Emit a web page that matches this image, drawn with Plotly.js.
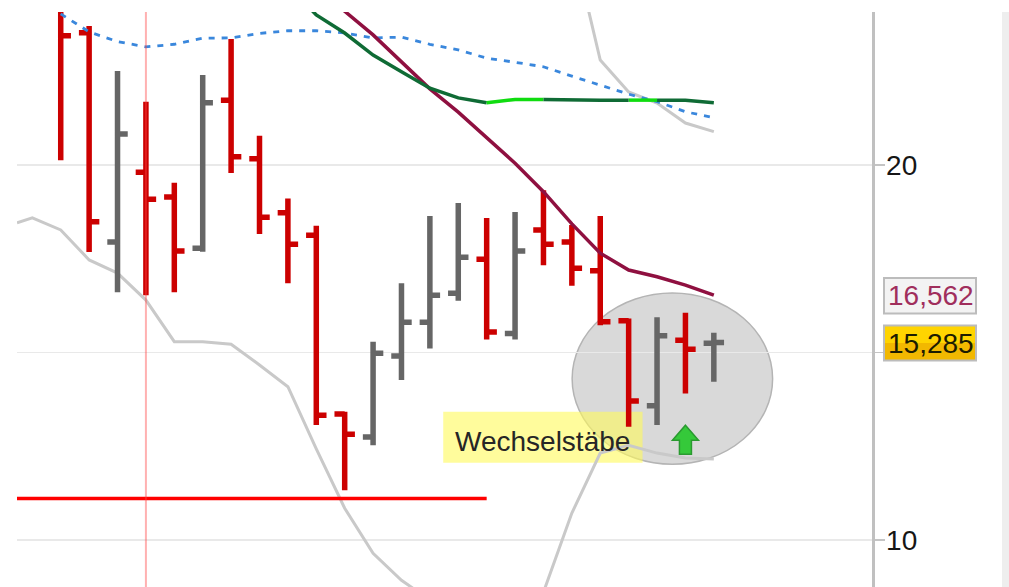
<!DOCTYPE html>
<html><head><meta charset="utf-8">
<script src="https://cdn.plot.ly/plotly-3.0.1.min.js"></script>
<style>html,body{margin:0;padding:0;background:#fff}#c{width:1009px;height:587px}</style>
</head><body><div id="c"></div>
<script>
// Price data (one entry per session)
const sessions = [0,1,2,3,4,5,6,7,8,9,10,11,12,13,14,15,16,17,18,19,20,21,22,23];
const openVals  = [24.27,23.53,17.95,19.81,19.15,17.78,21.73,20.17,18.73,18.13,13.36,12.75,14.91,15.81,16.58,17.49,15.51,18.27,17.95,17.18,15.85,13.58,15.33,15.25];
const highVals  = [24.4,23.71,22.51,21.69,19.53,22.4,23.36,20.78,19.11,18.38,13.42,15.29,16.85,18.64,18.99,18.59,18.75,19.33,18.4,18.64,15.91,15.94,16.06,15.53];
const lowVals   = [20.13,17.68,16.61,16.53,16.61,17.69,19.79,18.16,16.85,13.07,11.33,12.53,14.27,15.11,16.38,15.35,15.35,17.33,16.78,15.73,13.02,13.07,13.91,14.22];
const closeVals = [23.45,18.49,20.83,19.09,17.71,21.66,20.22,18.61,17.89,13.33,12.82,14.98,15.81,16.53,17.54,15.55,17.71,17.89,17.25,15.82,13.71,15.45,15.09,15.27];
// Indicator lines
const lowerBandX = [-1.54,-1,0,1,2,3,4,5,6,7,8,9,10,11,12,13,14,15,16,17,18,19,20,21,22,23];
const lowerBandY = [18.46,18.59,18.27,17.47,17.12,16.4,15.29,15.29,15.22,14.67,14.09,12.43,10.85,9.65,8.93,8.4,8.0,7.73,7.87,8.61,10.72,12.32,12.53,12.32,12.19,12.16];
const upperBandX = [18,19,20,21,22,23];
const upperBandY = [26.0,22.8,21.95,21.65,21.12,20.89];
const dashedAvg  = [24.03,23.55,23.29,23.15,23.22,23.38,23.39,23.51,23.58,23.58,23.52,23.39,23.41,23.22,23.07,22.85,22.74,22.62,22.37,22.13,21.89,21.69,21.42,21.26];
const maroonX = [9,10,11,12,13,14,15,16,17,18,19,20,21,22,23];
const maroonY = [24.8,24.1,23.47,22.75,22.03,21.41,20.73,20.05,19.29,18.43,17.65,17.2,17.02,16.8,16.53];
const darkGreenX = [8,9,10,11,12,13,14,15];
const darkGreenY = [24.8,24.0,23.52,22.93,22.49,22.05,21.79,21.66];
const flatGreenX = [17,18,19,20];
const flatGreenY = [21.75,21.73,21.73,21.73];
const endGreenX = [21,22,23];
const endGreenY = [21.73,21.73,21.66];
const brightGreenX = [15,16,17,null,20,21];
const brightGreenY = [21.66,21.75,21.75,null,21.73,21.73];
const supportX = [-1.54,15];
const supportY = [11.11,11.11];
const tickVals = [10,15,20];
const tickText = ['10','','20'];
const crosshairSession = 3;
const signalSession = 22;
const signalPrice = 12.29;
const noteText = 'Wechselstäbe';
const lastAvg = '16,562';
const lastPrice = '15,285';

const xRange = [-1.54,28.57], yRange = [8.75,24.08];
const FONT = '"Liberation Sans", Arial, sans-serif';
const PW = 855, PH = 575, L = 17, T = 12;
const paperX = v => (v-L)/PW;
const paperY = v => 1-(v-T)/PH;

function line(x,y,color,width,axisX,axisY,dash){
  return {type:'scatter',mode:'lines',x,y,xaxis:axisX||'x2',yaxis:axisY||'y2',
    line:{color,width,shape:'linear',dash:dash||'solid'},connectgaps:false,hoverinfo:'skip',showlegend:false};
}
const traces = [
  line(lowerBandX,lowerBandY,'#c9c9c9',3,'x','y'),
  line(upperBandX,upperBandY,'#c9c9c9',3,'x','y'),
  {type:'ohlc',x:sessions,open:openVals,high:highVals,low:lowVals,close:closeVals,xaxis:'x2',yaxis:'y2',
    tickwidth:0.36,
    increasing:{line:{color:'#666666',width:5.5}},
    decreasing:{line:{color:'#cc0000',width:5.5}},hoverinfo:'skip',showlegend:false},
  {type:'scatter',mode:'lines',x:supportX,y:supportY,xaxis:'x2',yaxis:'y2',line:{color:'#ff0000',width:3.5},hoverinfo:'skip',showlegend:false},
  line(sessions,dashedAvg,'#3a87dc',2.8,'x2','y2','6px,7px'),
  line(maroonX,maroonY,'#8f1040',3.5),
  line(darkGreenX,darkGreenY,'#0f6b35',3.5),
  line(brightGreenX,brightGreenY,'#10dc10',3.5),
  line(flatGreenX,flatGreenY,'#0f6b35',3.5),
  line(endGreenX,endGreenY,'#0f6b35',3.5)
];
const shapes = [
  {type:'circle',layer:'below',xref:'x2',yref:'y2',x0:18.01,x1:25.07,y0:12.02,y1:16.59,
   fillcolor:'rgba(128,128,128,0.3)',line:{color:'#b4b4b4',width:1.5}},
  {type:'rect',layer:'below',xref:'x2',yref:'y2',x0:13.47,x1:20.49,y0:12.06,y1:13.42,
   fillcolor:'rgba(255,250,90,0.6)',line:{width:0}},
  {type:'line',layer:'above',xref:'x',yref:'paper',x0:crosshairSession,x1:crosshairSession,y0:0,y1:1,
   line:{color:'rgba(255,70,70,0.42)',width:2}},
  {type:'path',layer:'above',xref:'x2',yref:'y2',xsizemode:'pixel',ysizemode:'pixel',xanchor:signalSession,yanchor:signalPrice,
   path:'M 0 29 L 13 14 L 6 14 L 6 0 L -6 0 L -6 14 L -13 14 Z',fillcolor:'#35c93a',line:{color:'#2a9a30',width:1.5}},
  {type:'rect',xref:'paper',yref:'paper',x0:paperX(1002),x1:paperX(1009),y0:0,y1:1,fillcolor:'#eeeeee',line:{width:0}},
  {type:'rect',xref:'paper',yref:'paper',x0:paperX(884),x1:paperX(976),y0:paperY(278),y1:paperY(313.5),fillcolor:'#f3f3f3',line:{color:'#bcbcbc',width:2}},
  {type:'rect',xref:'paper',yref:'paper',x0:paperX(884),x1:paperX(976),y0:paperY(325.5),y1:paperY(343),fillcolor:'#ffd400',line:{width:0}},
  {type:'rect',xref:'paper',yref:'paper',x0:paperX(884),x1:paperX(976),y0:paperY(343),y1:paperY(360.5),fillcolor:'#f2b800',line:{width:0}},
  {type:'rect',xref:'paper',yref:'paper',x0:paperX(884),x1:paperX(976),y0:paperY(325.5),y1:paperY(360.5),fillcolor:'rgba(0,0,0,0)',line:{color:'#bcbcbc',width:2}}
];
const annotations = [
  {xref:'x2',yref:'y2',x:16.95,y:12.62,text:noteText,showarrow:false,font:{family:FONT,size:28,color:'#262626'},xanchor:'center',yanchor:'middle'},
  {xref:'paper',yref:'paper',x:paperX(931),y:paperY(295.5),text:lastAvg,showarrow:false,font:{family:FONT,size:28,color:'#a02e5c'},xanchor:'center',yanchor:'middle'},
  {xref:'paper',yref:'paper',x:paperX(931),y:paperY(343),text:lastPrice,showarrow:false,font:{family:FONT,size:28,color:'#1c1c00'},xanchor:'center',yanchor:'middle'}
];
const layout = {
  width:1009,height:587,margin:{l:L,r:1009-L-PW,t:T,b:0,pad:0},
  paper_bgcolor:'#ffffff',plot_bgcolor:'#ffffff',showlegend:false,hovermode:false,
  xaxis:{range:xRange,visible:false,fixedrange:true,rangeslider:{visible:false}},
  xaxis2:{range:xRange,visible:false,overlaying:'x',fixedrange:true,rangeslider:{visible:false}},
  yaxis:{range:yRange,side:'right',tickmode:'array',tickvals:tickVals,ticktext:tickText,ticks:'outside',ticklen:10,tickwidth:1.5,tickcolor:'#c4c4c4',
    showgrid:true,gridcolor:'#e9e9e9',gridwidth:1.5,zeroline:false,showline:true,linecolor:'#c0c0c0',linewidth:2.5,
    tickfont:{family:FONT,size:28,color:'#161616'},ticklabelstandoff:-4,fixedrange:true},
  yaxis2:{range:yRange,overlaying:'y',visible:false,fixedrange:true},
  shapes,annotations
};
Plotly.newPlot('c',traces,layout,{displayModeBar:false,staticPlot:true});
</script></body></html>
